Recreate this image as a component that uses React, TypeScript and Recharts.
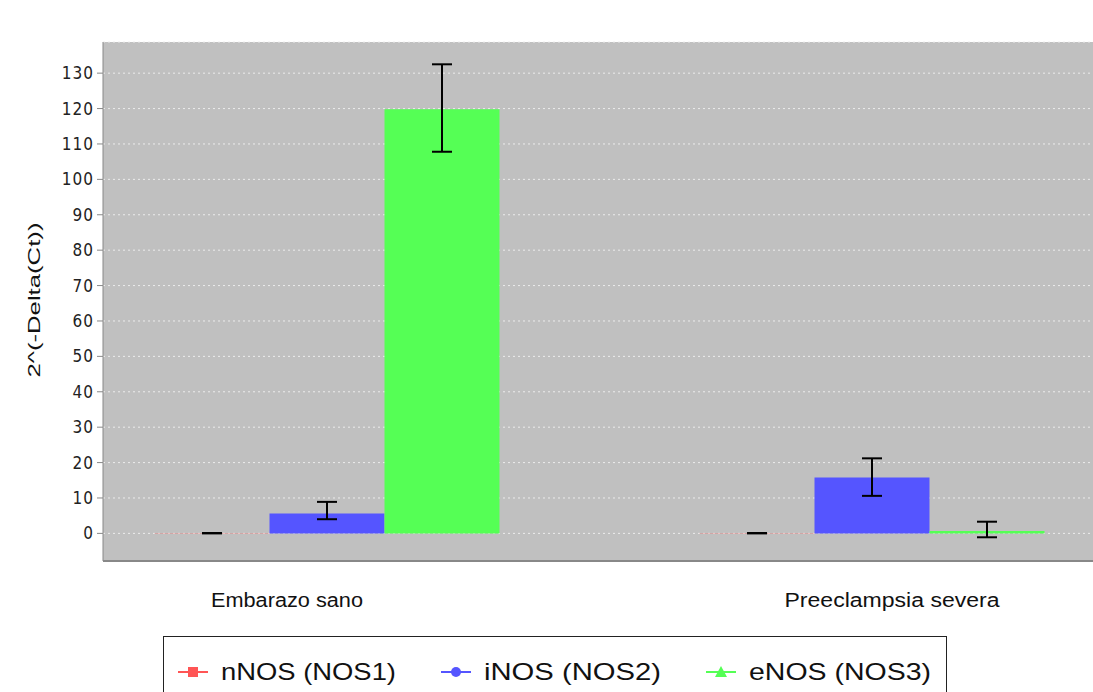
import { Bar, BarChart, CartesianGrid, ErrorBar, XAxis, YAxis } from "recharts";

const categories = ["Embarazo sano", "Preeclampsia severa"];
const nNOS = [0.05, 0.05];
const nNOSErr: [number, number][] = [
  [0.05, 0.05],
  [0.05, 0.05],
];
const iNOS = [5.6, 15.8];
const iNOSErr: [number, number][] = [
  [1.6, 3.3],
  [5.2, 5.4],
];
const eNOS = [119.8, 0.7];
const eNOSErr: [number, number][] = [
  [12.0, 12.7],
  [1.8, 2.6],
];
const yTicks = [0, 10, 20, 30, 40, 50, 60, 70, 80, 90, 100, 110, 120, 130];

const series = [
  { key: "nNOS", name: "nNOS (NOS1)", color: "#ff5555", marker: "square" },
  { key: "iNOS", name: "iNOS (NOS2)", color: "#5555ff", marker: "circle" },
  { key: "eNOS", name: "eNOS (NOS3)", color: "#55ff55", marker: "triangle" },
];

const data = categories.map((name, i) => ({
  name,
  nNOS: nNOS[i],
  nNOSErr: nNOSErr[i],
  iNOS: iNOS[i],
  iNOSErr: iNOSErr[i],
  eNOS: eNOS[i],
  eNOSErr: eNOSErr[i],
}));

const labelShift = [-40, 20];
const labelWidth = [152, 215];

function CategoryTick({ x, y, payload, index }: any) {
  return (
    <text
      x={x + labelShift[index]}
      y={y + 46}
      textAnchor="middle"
      fontFamily="'Liberation Sans', Arial, sans-serif"
      fontSize={20}
      fill="#111"
      textLength={labelWidth[index]}
      lengthAdjust="spacingAndGlyphs"
    >
      {payload.value}
    </text>
  );
}

function ValueTick({ x, y, payload }: any) {
  return (
    <text
      x={x - 1}
      y={y + 6}
      textAnchor="end"
      fontFamily="'DejaVu Sans Condensed', 'DejaVu Sans', sans-serif"
      fontSize={17}
      letterSpacing={1}
      fill="#222"
    >
      {payload.value}
    </text>
  );
}

function Marker({ kind, color, cx, cy }: { kind: string; color: string; cx: number; cy: number }) {
  if (kind === "square") return <rect x={cx - 5} y={cy - 5} width={10} height={10} fill={color} />;
  if (kind === "circle") return <circle cx={cx} cy={cy} r={5} fill={color} />;
  return <polygon points={`${cx},${cy - 6} ${cx + 6},${cy + 5} ${cx - 6},${cy + 5}`} fill={color} />;
}

const legendPos = [
  { icon: 29, text: 57, width: 175 },
  { icon: 292, text: 320, width: 177 },
  { icon: 557, text: 585, width: 182 },
];

function ChartLegend() {
  return (
    <div
      style={{
        position: "absolute",
        left: 163,
        top: 636,
        width: 782,
        height: 70,
        border: "1px solid #222",
        background: "#fff",
      }}
    >
      <svg width={782} height={70}>
        {series.map((s, i) => (
          <g key={s.key}>
            <line x1={legendPos[i].icon - 15} x2={legendPos[i].icon + 15} y1={35} y2={35} stroke={s.color} strokeWidth={2} />
            <Marker kind={s.marker} color={s.color} cx={legendPos[i].icon} cy={35} />
            <text
              x={legendPos[i].text}
              y={43}
              fontFamily="'Liberation Sans', Arial, sans-serif"
              fontSize={24}
              fill="#111"
              textLength={legendPos[i].width}
              lengthAdjust="spacingAndGlyphs"
            >
              {s.name}
            </text>
          </g>
        ))}
      </svg>
    </div>
  );
}

export default function App() {
  return (
    <div style={{ position: "relative", width: 1093, height: 692, overflow: "hidden", background: "#fff" }}>
      <style>{"body{margin:0}"}</style>
      <BarChart width={1093} height={692} data={data} margin={{ top: 42, right: 0, bottom: 0, left: 0 }} barGap={0}>
        <CartesianGrid vertical={false} stroke="#ececec" strokeDasharray="2 3" fill="#c0c0c0" />
        <XAxis
          dataKey="name"
          height={131}
          padding={{ left: -48.5, right: -51.5 }}
          tickLine={false}
          tickSize={0}
          tickMargin={0}
          axisLine={{ stroke: "#888", strokeWidth: 2 }}
          tick={<CategoryTick />}
          interval={0}
        />
        <YAxis
          width={103}
          domain={[-7.8, 138.8]}
          allowDataOverflow
          ticks={yTicks}
          interval={0}
          tickSize={6}
          tickLine={{ stroke: "#888" }}
          axisLine={{ stroke: "#888" }}
          tick={<ValueTick />}
          label={{
            content: () => (
              <text
                transform="translate(40,300) rotate(-90)"
                textAnchor="middle"
                fontFamily="'Liberation Sans', Arial, sans-serif"
                fontSize={17}
                fill="#111"
                textLength={155}
                lengthAdjust="spacingAndGlyphs"
              >
                2^(-Delta(Ct))
              </text>
            ),
          }}
        />
        {series.map((s) => (
          <Bar key={s.key} dataKey={s.key} name={s.name} fill={s.color} barSize={115} isAnimationActive={false}>
            <ErrorBar dataKey={`${s.key}Err`} width={10} stroke="#000" strokeWidth={2} direction="y" />
          </Bar>
        ))}
      </BarChart>
      <ChartLegend />
    </div>
  );
}
